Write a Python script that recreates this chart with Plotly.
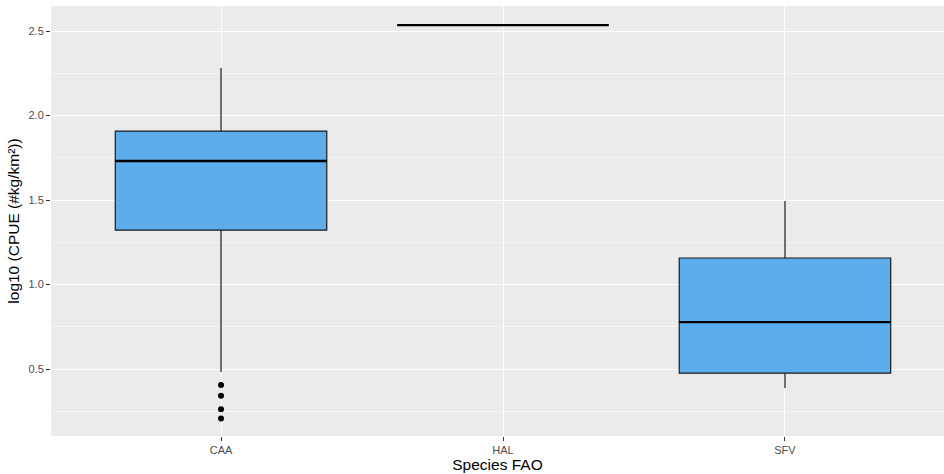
import plotly.graph_objects as go

# Summary statistics per species (log10 CPUE)
species = ["CAA", "HAL", "SFV"]
lower_whisker = [0.482, 2.535, 0.388]
q1 = [1.322, 2.535, 0.476]
median = [1.731, 2.535, 0.778]
q3 = [1.908, 2.535, 1.157]
upper_whisker = [2.281, 2.535, 1.494]

# Outlying observations
outlier_species = ["CAA", "CAA", "CAA", "CAA"]
outlier_values = [0.405, 0.342, 0.262, 0.208]

y_ticks = [0.5, 1.0, 1.5, 2.0, 2.5]

BOX_WIDTH = 0.75
FILL = "#5DADEC"

pos = {s: i for i, s in enumerate(species)}

fig = go.Figure()

for i, s in enumerate(species):
    fig.add_trace(go.Box(
        x=[pos[s]],
        q1=[q1[i]], median=[median[i]], q3=[q3[i]],
        lowerfence=[lower_whisker[i]], upperfence=[upper_whisker[i]],
        width=BOX_WIDTH,
        fillcolor=FILL,
        line=dict(color="#1a1a1a", width=1.2),
        whiskerwidth=0,
        boxpoints=False,
        showlegend=False,
        hoverinfo="skip",
    ))
    # heavier median bar, as in ggplot
    fig.add_trace(go.Scatter(
        x=[pos[s] - BOX_WIDTH / 2, pos[s] + BOX_WIDTH / 2],
        y=[median[i], median[i]],
        mode="lines",
        line=dict(color="black", width=2.3),
        showlegend=False,
        hoverinfo="skip",
    ))

fig.add_trace(go.Scatter(
    x=[pos[s] for s in outlier_species],
    y=outlier_values,
    mode="markers",
    marker=dict(color="black", size=6),
    showlegend=False,
    hoverinfo="skip",
))

fig.update_layout(
    width=944, height=474,
    margin=dict(l=51, r=0, t=6, b=38),
    paper_bgcolor="white",
    plot_bgcolor="#EBEBEB",
    font=dict(family="Liberation Sans, Arial, sans-serif"),
    xaxis=dict(
        range=[-0.603, 2.564],
        tickmode="array",
        tickvals=list(range(len(species))),
        ticktext=species,
        showgrid=True, gridcolor="white", gridwidth=1.1,
        zeroline=False,
        ticks="outside", ticklen=4, tickcolor="#333333", tickwidth=1,
        tickfont=dict(size=11, color="#4D4D4D"),
        title=dict(text="Species FAO", font=dict(size=15.5, color="black"), standoff=3),
    ),
    yaxis=dict(
        range=[0.104, 2.648],
        tickmode="array",
        tickvals=y_ticks,
        ticktext=[f"{v:.1f}" for v in y_ticks],
        showgrid=True, gridcolor="white", gridwidth=1.1,
        minor=dict(showgrid=True, gridcolor="#F5F5F5", gridwidth=0.6, dtick=0.5, tick0=0.25),
        zeroline=False,
        ticks="outside", ticklen=4, tickcolor="#333333", tickwidth=1,
        tickfont=dict(size=11, color="#4D4D4D"),
        title=dict(text="log10 (CPUE (#kg/km²))", font=dict(size=15.5, color="black"), standoff=5),
    ),
)

fig.write_html("out.html")
